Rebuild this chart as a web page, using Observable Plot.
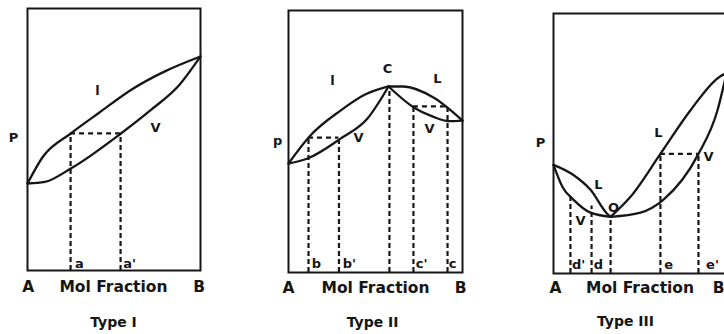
<!DOCTYPE html>
<html><head><meta charset="utf-8">
<script src="https://cdn.jsdelivr.net/npm/d3@7"></script>
<script src="https://cdn.jsdelivr.net/npm/@observablehq/plot@0.6"></script>
<style>
html,body{margin:0;padding:0;background:#fff;width:724px;height:334px;overflow:hidden;}
#wrap{position:relative;width:724px;height:334px;overflow:hidden;}
.panel{position:absolute;top:0;}
</style></head><body><div id="wrap"></div>
<script>
// ---------- data (x = mol fraction of B, y = relative pressure) ----------
// Type I
const t1Liquid = [[0,0.332],[0.09,0.435],[0.25,0.523],[0.42,0.605],[0.6,0.69],[0.8,0.762],[1,0.817]];
const t1Vapor  = [[0,0.332],[0.1,0.338],[0.25,0.389],[0.54,0.523],[0.71,0.611],[0.88,0.71],[1,0.817]];
const t1Drops  = [[0.249,0.523],[0.538,0.523]];
const t1Ties   = [[0.523,0.249,0.538]];
const t1Labels = [["l",0.405,0.687],["V",0.74,0.546],["P",-0.081,0.508],["a",0.3,0.027],["a'",0.59,0.027]];
const t1Axis   = [["A",0.005,-0.065],["Mol Fraction",0.497,-0.065],["B",0.992,-0.065],["Type I",0.497,-0.198]];
// Type II
const t2LiquidLeft  = [[0,0.416],[0.126,0.523],[0.299,0.618],[0.443,0.68],[0.575,0.71]];
const t2VaporLeft   = [[0,0.416],[0.109,0.435],[0.299,0.511],[0.454,0.588],[0.575,0.71]];
const t2LiquidRight = [[0.575,0.71],[0.661,0.71],[0.833,0.668],[1,0.58]];
const t2VaporRight  = [[0.575,0.71],[0.72,0.63],[0.83,0.595],[0.92,0.578],[1,0.58]];
const t2Drops  = [[0.115,0.515],[0.29,0.515],[0.58,0.71],[0.718,0.634],[0.914,0.634]];
const t2Ties   = [[0.515,0.115,0.29],[0.634,0.718,0.914]];
const t2Labels = [["p",-0.063,0.504],["l",0.253,0.733],["V",0.402,0.515],["C",0.569,0.779],["L",0.856,0.74],["V",0.81,0.55],
                  ["b",0.161,0.034],["b'",0.35,0.034],["c'",0.765,0.034],["c",0.943,0.034]];
const t2Axis   = [["A",0,-0.061],["Mol Fraction",0.5,-0.061],["B",0.989,-0.061],["Type II",0.483,-0.19]];
// Type III
const t3LiquidLeft  = [[0,0.418],[0.115,0.379],[0.214,0.322],[0.31,0.23],[0.33,0.218]];
const t3VaporLeft   = [[0,0.418],[0.052,0.333],[0.115,0.284],[0.214,0.234],[0.33,0.218]];
const t3LiquidRight = [[0.33,0.218],[0.445,0.295],[0.618,0.46],[0.792,0.628],[0.965,0.759],[1,0.77]];
const t3VaporRight  = [[0.33,0.218],[0.503,0.234],[0.636,0.284],[0.838,0.46],[0.948,0.628],[1,0.77]];
const t3Drops  = [[0.098,0.303],[0.22,0.26],[0.33,0.218],[0.618,0.46],[0.838,0.46]];
const t3Ties   = [[0.46,0.618,0.838]];
const t3Labels = [["P",-0.075,0.502],["L",0.26,0.341],["V",0.156,0.203],["O",0.347,0.253],["L",0.607,0.54],["V",0.896,0.448],
                  ["d'",0.145,0.034],["d",0.26,0.034],["e",0.665,0.034],["e'",0.919,0.034]];
const t3Axis   = [["A",0.012,-0.054],["Mol Fraction",0.5,-0.054],["B",0.955,-0.054],["Type III",0.416,-0.184]];

// ---------- drawing ----------
const ink = "#161616";
const font = "'DejaVu Sans', sans-serif";
function panel(cfg) {
  const marks = [
    Plot.frame({stroke: ink, strokeWidth: 2}),
    ...cfg.curves.map(c => Plot.line(c, {x: d => d[0], y: d => d[1], curve: "monotone-x", stroke: ink, strokeWidth: 2.3})),
    Plot.ruleX(cfg.drops, {x: d => d[0], y1: 0, y2: d => d[1], stroke: ink, strokeWidth: 2.2, strokeDasharray: "5,3"}),
    Plot.ruleY(cfg.ties, {y: d => d[0], x1: d => d[1], x2: d => d[2], stroke: ink, strokeWidth: 2.2, strokeDasharray: "5,4"}),
    Plot.text(cfg.labels, {x: d => d[1], y: d => d[2], text: d => d[0], fontSize: 13, fontWeight: "bold", fill: ink, fontFamily: font}),
    Plot.text(cfg.axis.slice(0,3), {x: d => d[1], y: d => d[2], text: d => d[0], fontSize: 15.5, fontWeight: "bold", fill: ink, fontFamily: font}),
    Plot.text(cfg.axis.slice(3), {x: d => d[1], y: d => d[2], text: d => d[0], fontSize: 14, fontWeight: "bold", fill: ink, fontFamily: font})
  ];
  const svg = Plot.plot({
    width: cfg.width, height: 334,
    marginLeft: cfg.ml, marginRight: cfg.mr, marginTop: cfg.mt, marginBottom: cfg.mb,
    x: {domain: [0, 1], axis: null},
    y: {domain: [0, 1], axis: null},
    style: {background: "transparent", maxWidth: "none", overflow: "visible"},
    marks
  });
  const div = document.createElement("div");
  div.className = "panel";
  div.style.left = cfg.left + "px";
  div.appendChild(svg);
  document.getElementById("wrap").appendChild(div);
}
panel({left: 0, width: 240, ml: 27, mr: 40, mt: 8, mb: 64,
  curves: [t1Liquid, t1Vapor], drops: t1Drops, ties: t1Ties, labels: t1Labels, axis: t1Axis});
panel({left: 240, width: 250, ml: 48, mr: 28, mt: 10, mb: 62,
  curves: [t2LiquidLeft, t2VaporLeft, t2LiquidRight, t2VaporRight], drops: t2Drops, ties: t2Ties, labels: t2Labels, axis: t2Axis});
panel({left: 490, width: 250, ml: 63, mr: 14, mt: 13, mb: 61,
  curves: [t3LiquidLeft, t3VaporLeft, t3LiquidRight, t3VaporRight], drops: t3Drops, ties: t3Ties, labels: t3Labels, axis: t3Axis});
</script></body></html>
